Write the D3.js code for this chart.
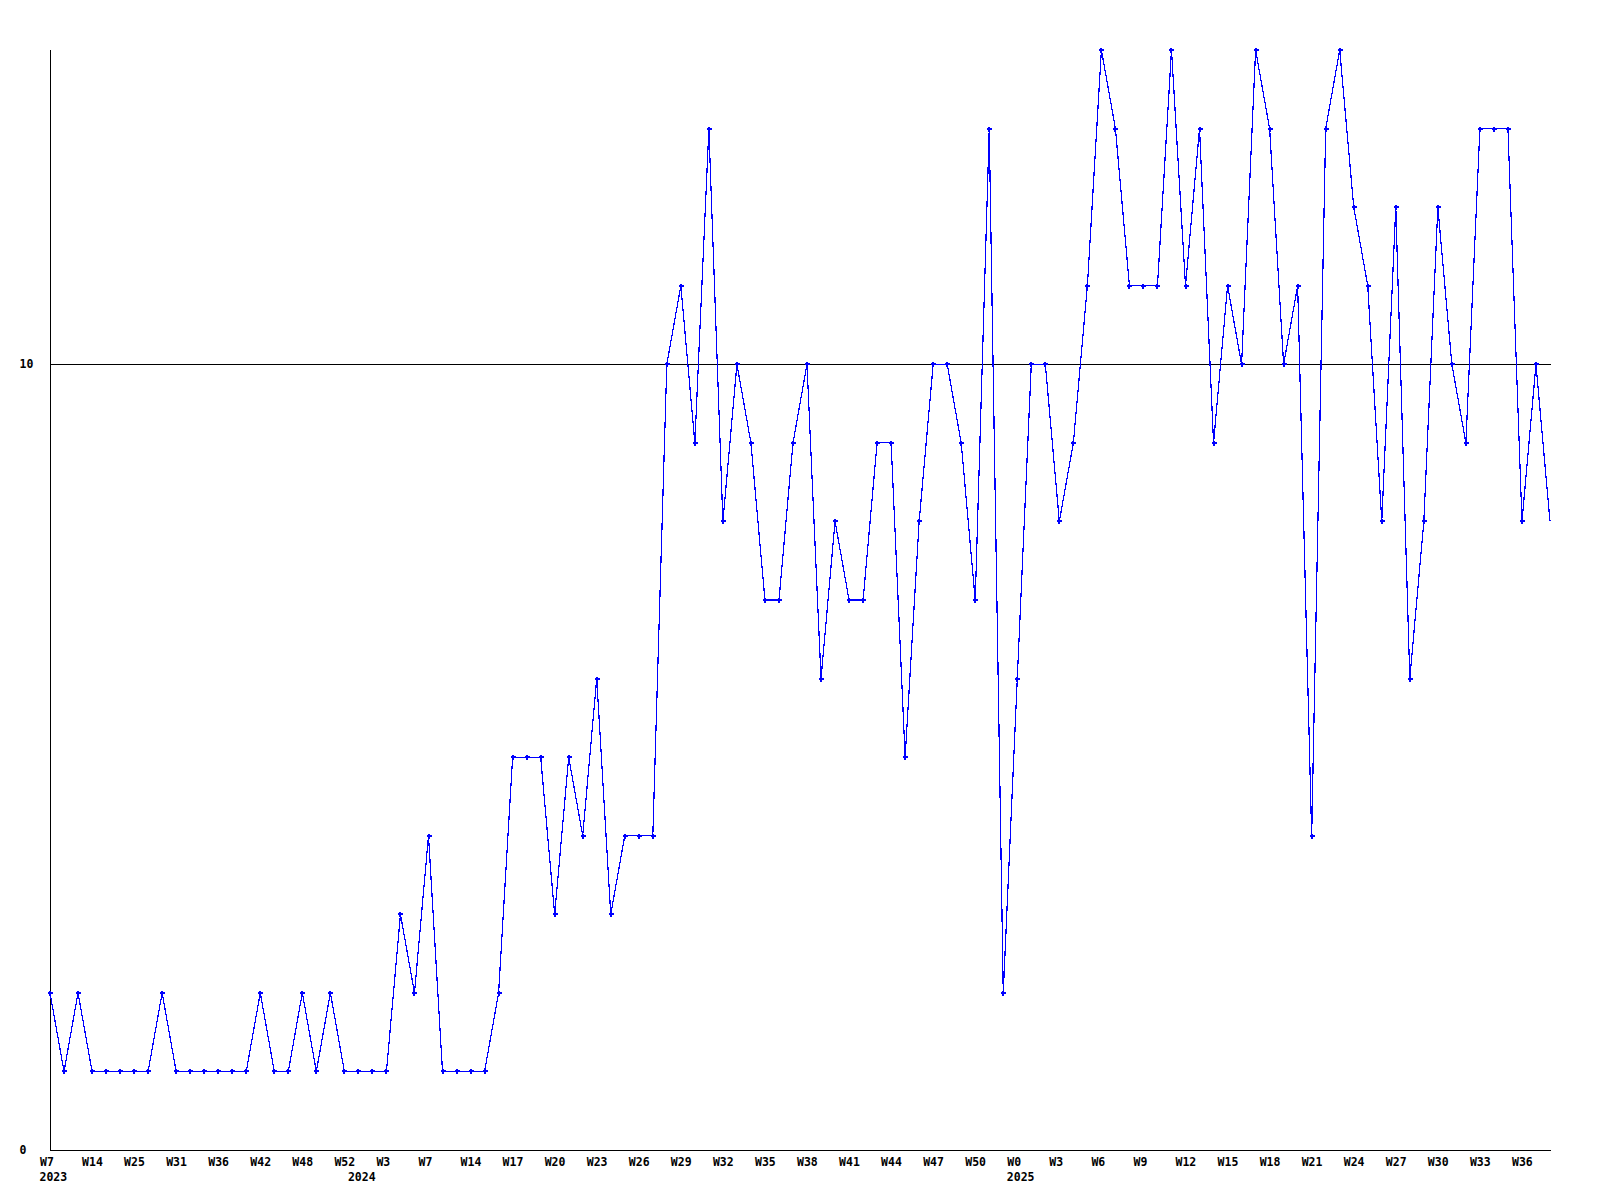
<!DOCTYPE html>
<html>
<head>
<meta charset="utf-8">
<script src="https://cdn.jsdelivr.net/npm/d3@7/dist/d3.min.js"></script>
<style>
  html, body { margin: 0; padding: 0; background: #fff; }
  svg { display: block; }
  text { font-family: "DejaVu Sans Mono", monospace; font-weight: bold; font-size: 11.5px; fill: #000; }
</style>
</head>
<body>
<svg id="chart" width="1600" height="1200"></svg>
<script>
// ---- data ----
const values = [
  2,1,2,1,1,1,1,1,2,1,1,1,1,1,1,2,1,1,2,1,2,1,1,1,1,3,2,4,1,1,1,1,2,5,5,5,3,5,4,6,
  3,4,4,4,10,11,9,13,8,10,9,7,7,9,10,6,8,7,7,9,9,5,8,10,10,9,7,13,2,6,10,10,8,9,11,14,
  13,11,11,11,14,11,13,9,11,10,14,13,10,11,4,13,14,12,11,8,12,6,8,12,10,9,13,13,13,8,10,8
];
const weekLabels = [
  "W7","W14","W25","W31","W36","W42","W48","W52","W3","W7","W14","W17","W20","W23","W26","W29","W32","W35",
  "W38","W41","W44","W47","W50","W0","W3","W6","W9","W12","W15","W18","W21","W24","W27","W30","W33","W36"
];
const labelEvery = 3;
const yearLabels = ["2023","2024","2025"];
const yearIndex = [0, 22, 69];
const yTicks = [0, 10];
const yMax = 14;

// ---- layout ----
const mLeft = 50, mRight = 1550, mTop = 50, mBottom = 1150;
const svg = d3.select("#chart");

const x = d3.scaleLinear().domain([0, values.length - 1]).range([mLeft, mRight]);
const y = d3.scaleLinear().domain([0, yMax]).range([mBottom, mTop]);

// y axis line
svg.append("line").attr("x1", mLeft + 0.5).attr("x2", mLeft + 0.5)
  .attr("y1", mTop).attr("y2", mBottom + 0.5)
  .attr("stroke", "#000").attr("stroke-width", 1).attr("shape-rendering", "crispEdges");
// x axis line
svg.append("line").attr("x1", mLeft).attr("x2", mRight + 1)
  .attr("y1", mBottom + 0.5).attr("y2", mBottom + 0.5)
  .attr("stroke", "#000").attr("stroke-width", 1).attr("shape-rendering", "crispEdges");

// y grid (non-zero ticks) + labels
svg.selectAll("line.grid").data(yTicks.filter(d => d !== 0)).enter().append("line")
  .attr("class", "grid")
  .attr("x1", mLeft).attr("x2", mRight + 1)
  .attr("y1", d => Math.round(y(d)) + 0.5).attr("y2", d => Math.round(y(d)) + 0.5)
  .attr("stroke", "#000").attr("stroke-width", 1).attr("shape-rendering", "crispEdges");

svg.selectAll("text.ylab").data(yTicks).enter().append("text")
  .attr("class", "ylab")
  .attr("x", 19.5)
  .attr("y", d => y(d) + 4)
  .text(d => d);

// x labels via d3 axis
const tickIdx = weekLabels.map((_, i) => i * labelEvery);
const xAxis = d3.axisBottom(x).tickValues(tickIdx).tickSize(0)
  .tickFormat((d, i) => weekLabels[i]);
const gx = svg.append("g").attr("transform", `translate(0,${mBottom})`).call(xAxis);
gx.select(".domain").remove();
gx.selectAll("text")
  .attr("text-anchor", "start")
  .attr("x", -10.5)
  .attr("y", 15.5)
  .attr("dy", null)
  .attr("fill", "#000")
  .style("font-family", '"DejaVu Sans Mono", monospace')
  .style("font-weight", "bold")
  .style("font-size", "11.5px");

svg.selectAll("text.year").data(yearLabels).enter().append("text")
  .attr("class", "year")
  .attr("x", (d, i) => x(yearIndex[i]) - 10.5)
  .attr("y", mBottom + 31)
  .text(d => d);

// data line
const line = d3.line().x((d, i) => x(i)).y(d => y(d));
svg.append("path").datum(values)
  .attr("d", line)
  .attr("fill", "none")
  .attr("stroke", "#0000ff")
  .attr("stroke-width", 1.2)
  .attr("shape-rendering", "crispEdges");

// markers (small plus), last point has none
const marks = svg.append("g").attr("fill", "#0000ff").attr("shape-rendering", "crispEdges");
values.slice(0, values.length - 1).forEach((v, i) => {
  const cx = Math.round(x(i)), cy = Math.round(y(v));
  marks.append("rect").attr("x", cx - 2).attr("y", cy - 1).attr("width", 5).attr("height", 2);
  marks.append("rect").attr("x", cx - 1).attr("y", cy - 2).attr("width", 2).attr("height", 5);
});
</script>
</body>
</html>
